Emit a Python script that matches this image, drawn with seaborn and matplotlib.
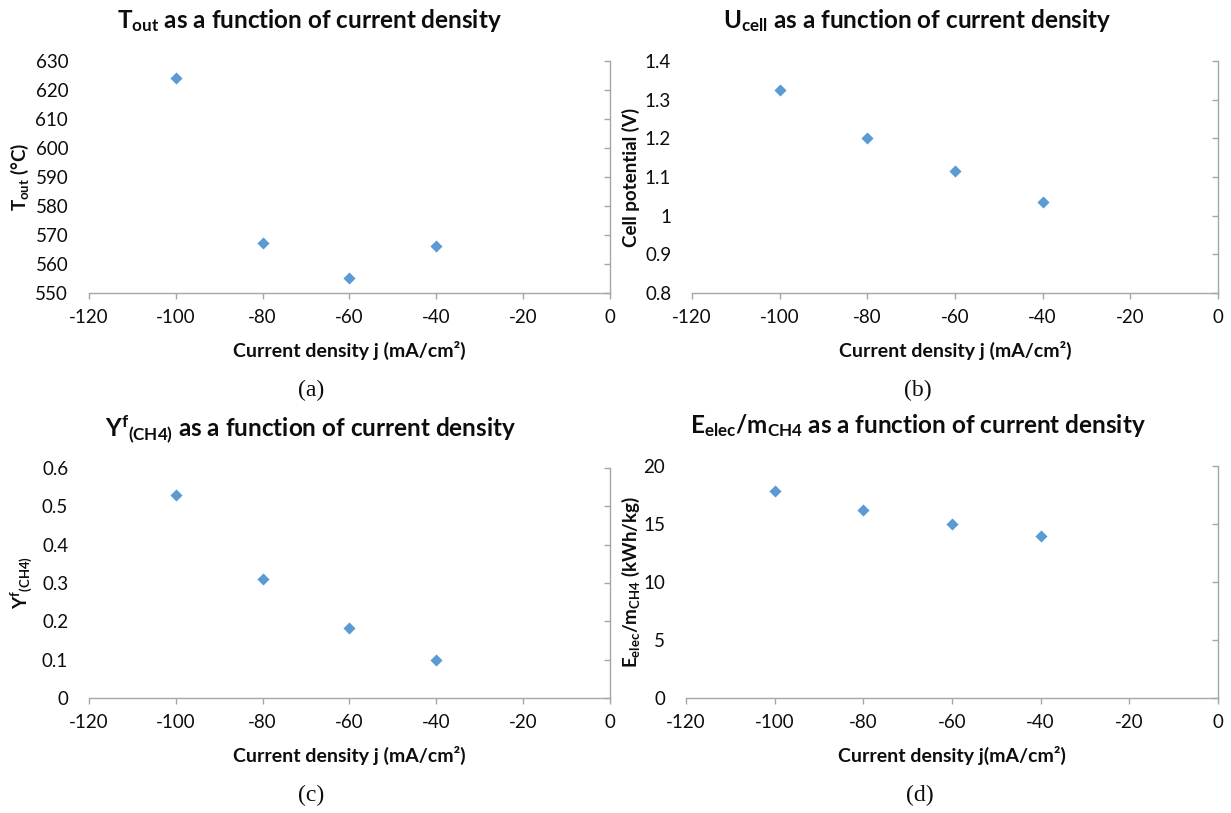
import matplotlib
matplotlib.use("Agg")
from matplotlib import pyplot as plt
import seaborn as sns

# current density (mA/cm2), same for every panel
current_density = [-100, -80, -60, -40]

t_out = [624.3, 567.1, 555.1, 566.1]
u_cell = [1.325, 1.201, 1.116, 1.036]
yield_ch4 = [0.530, 0.311, 0.182, 0.100]
e_per_mass = [17.84, 16.2, 15.04, 13.98]

x_ticks = [-120, -100, -80, -60, -40, -20, 0]
y_ticks_a = [550, 560, 570, 580, 590, 600, 610, 620, 630]
y_ticks_b = [0.8, 0.9, 1.0, 1.1, 1.2, 1.3, 1.4]
y_ticks_c = [0, 0.1, 0.2, 0.3, 0.4, 0.5, 0.6]
y_ticks_d = [0, 5, 10, 15, 20]
y_labels_b = ["0.8", "0.9", "1", "1.1", "1.2", "1.3", "1.4"]
y_labels_c = ["0", "0.1", "0.2", "0.3", "0.4", "0.5", "0.6"]

sns.set_theme(style="white")
plt.rcParams["font.family"] = ["Lato", "DejaVu Sans"]
plt.rcParams["mathtext.fontset"] = "custom"
plt.rcParams["mathtext.rm"] = "Lato"
plt.rcParams["mathtext.bf"] = "Lato:bold"
plt.rcParams["mathtext.default"] = "bf"

W, H = 1231, 813
fig = plt.figure(figsize=(W / 100, H / 100), dpi=100)

GRAY = "#A6A6A6"
BLUE = "#5B9BD5"
INK = "#0d0d0d"


def px_axes(left, top, right, bottom):
    return fig.add_axes([left / W, 1 - bottom / H, (right - left) / W, (bottom - top) / H])


panels = [
    dict(box=(89, 61, 609.5, 293), y=t_out, ticks=y_ticks_a, labels=None,
         title=r"T$_{out}$ as a function of current density", title_xy=(309, 20),
         ylabel=r"T$_{out}$ (°C)", ylx=20,
         xlabel="Current density j (mA/cm²)", caption="(a)", cap_xy=(311, 390)),
    dict(box=(692, 61, 1218, 293), y=u_cell, ticks=y_ticks_b, labels=y_labels_b,
         title=r"U$_{cell}$ as a function of current density", title_xy=(917, 20),
         ylabel="Cell potential (V)", ylx=631,
         xlabel="Current density j (mA/cm²)", caption="(b)", cap_xy=(918, 390)),
    dict(box=(89, 468, 609.5, 698), y=yield_ch4, ticks=y_ticks_c, labels=y_labels_c,
         title=r"Y$^{f}$$_{(CH4)}$ as a function of current density", title_xy=(311, 430),
         ylabel=r"Y$^{f}$$_{(CH4)}$", ylx=21,
         xlabel="Current density j (mA/cm²)", caption="(c)", cap_xy=(311, 795)),
    dict(box=(686, 466, 1218, 698), y=e_per_mass, ticks=y_ticks_d, labels=None,
         title=r"E$_{elec}$/m$_{CH4}$ as a function of current density", title_xy=(918, 425),
         ylabel=r"E$_{elec}$/m$_{CH4}$ (kWh/kg)", ylx=631,
         xlabel="Current density j(mA/cm²)", caption="(d)", cap_xy=(920, 795)),
]

for p in panels:
    ax = px_axes(*p["box"])
    sns.scatterplot(x=current_density, y=p["y"], ax=ax, marker="D", color=BLUE,
                    s=38, linewidth=0, zorder=3)
    ax.set_xlim(-120, 0)
    ax.set_ylim(p["ticks"][0], p["ticks"][-1])
    ax.set_xticks(x_ticks)
    ax.set_xticklabels([str(t) for t in x_ticks])
    ax.set_yticks(p["ticks"])
    if p["labels"] is not None:
        ax.set_yticklabels(p["labels"])
    else:
        ax.set_yticklabels([str(t) for t in p["ticks"]])

    for side in ["top", "left"]:
        ax.spines[side].set_visible(False)
    for side in ["right", "bottom"]:
        ax.spines[side].set_color(GRAY)
        ax.spines[side].set_linewidth(1)

    ax.tick_params(axis="y", left=False, right=True, direction="in", length=4.5,
                   width=1, color=GRAY, labelleft=True, labelright=False,
                   pad=15, labelsize=13.5, labelcolor=INK)
    ax.tick_params(axis="x", bottom=True, direction="out", length=4.5, width=1,
                   color=GRAY, pad=7, labelsize=13.5, labelcolor=INK)

    ax.set_xlabel(p["xlabel"], fontsize=14, fontweight="bold", labelpad=11,
                  color=INK)
    ax.set_ylabel("")
    b = p["box"]
    fig.text(p["ylx"] / W, 1 - ((b[1] + b[3]) / 2) / H, p["ylabel"], rotation=90,
             ha="center", va="center", fontsize=13.5, fontweight="bold", color=INK)
    fig.text(p["title_xy"][0] / W, 1 - p["title_xy"][1] / H, p["title"],
             ha="center", va="center", fontsize=17.5, fontweight="bold", color=INK)
    fig.text(p["cap_xy"][0] / W, 1 - p["cap_xy"][1] / H, p["caption"],
             ha="center", va="center", fontsize=17, family="Liberation Serif",
             color=INK)

fig.savefig("out.png", dpi=100)
